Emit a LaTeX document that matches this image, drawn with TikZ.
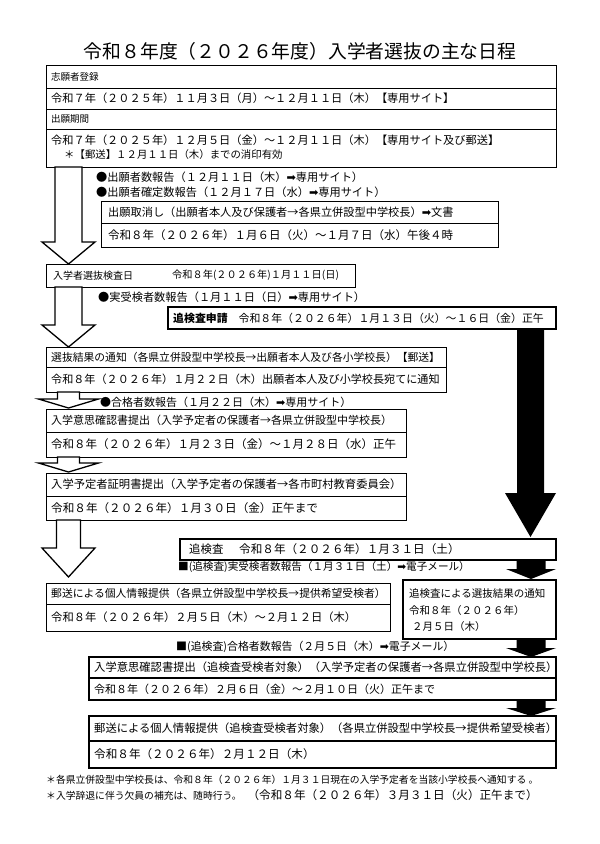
\documentclass[tikz,border=0pt]{standalone}
\usepackage{fontspec}
\setmainfont{Noto Sans CJK JP}
\newfontfamily\symfont{DejaVu Sans}
\usetikzlibrary{calc}
\newcommand\fs[1]{\fontsize{#1}{#1}\selectfont}
\newcommand\myarr{{\symfont ➡}}
% cell: [box opts] name, x, y, w, h, text
\newcommand\cell[7][]{%
  \node[cellbox,#1,minimum width=#5pt,minimum height=#6pt] (#2) at (#3,#4) {};
  \node[celltext] (#2t) at ($(#2.west)+(5,0)$) {#7};}
% block arrow: style, xc, from, to, shaft half, head half, head len, tip gap
\newcommand\blockarr[8]{%
  \path[#1] let \p1=(#3.south), \p2=(#4.north) in
    (#2pt-#5pt,\y1) -- (#2pt-#5pt,\y2+#8pt+#7pt) -- (#2pt-#6pt,\y2+#8pt+#7pt)
    -- (#2pt,\y2+#8pt) -- (#2pt+#6pt,\y2+#8pt+#7pt) -- (#2pt+#5pt,\y2+#8pt+#7pt)
    -- (#2pt+#5pt,\y1) -- cycle;}
\begin{document}
\begin{tikzpicture}[x=1pt,y=-1pt,
  cellbox/.style={draw, line width=0.9pt, anchor=north west, inner sep=0pt, outer sep=0pt},
  thick box/.style={line width=1.5pt},
  celltext/.style={anchor=west, inner sep=0pt},
  freetext/.style={anchor=west, inner sep=0pt},
  warr/.style={draw, line width=1.3pt, fill=white, line join=miter},
  barr/.style={fill=black}]
\fill[white] (0,0) rectangle (600,844);
\useasboundingbox (0,0) rectangle (600,844);

\node[inner sep=0pt] (title) at (300,51) {\fs{18.8}令和８年度（２０２６年度）入学者選抜の主な日程};

% top box
\cell{r1}{46}{65}{510}{23}{\fs{9.5}志願者登録}
\cell{r2}{46}{88}{510}{21}{\fs{11.2}令和７年（２０２５年）１１月３日（月）～１２月１１日（木）【専用サイト】}
\cell{r3}{46}{109}{510}{20}{\fs{9.5}出願期間}
\cell{r4}{46}{129}{510}{38}{}
\node[freetext] (r4a) at (51,140) {\fs{11.2}令和７年（２０２５年）１２月５日（金）～１２月１１日（木）【専用サイト及び郵送】};
\node[freetext] (r4b) at (64,155) {\fs{10.4}＊【郵送】１２月１１日（木）までの消印有効};

\node[freetext] (b1) at (96,177) {\fs{11.2}●出願者数報告（１２月１１日（木）\myarr 専用サイト）};
\node[freetext] (b2) at (96,192) {\fs{11.2}●出願者確定数報告（１２月１７日（水）\myarr 専用サイト）};

\cell{c1}{101}{201}{397}{22}{\fs{11.2}\hspace{2pt}出願取消し（出願者本人及び保護者→各県立併設型中学校長）\myarr 文書}
\cell{c2}{101}{223}{397}{24}{\fs{11.5}\hspace{2pt}令和８年（２０２６年）１月６日（火）～１月７日（水）午後４時}

\cell{e1}{46}{264}{309}{23}{\fs{10}\hspace{2pt}入学者選抜検査日}
\node[freetext] (e1b) at (172,275.5) {\fs{10.2}令和８年(２０２６年)１月１１日(日)};

\node[freetext] (b3) at (98,297) {\fs{11.2}●実受検者数報告（１月１１日（日）\myarr 専用サイト）};

\cell[thick box]{t1}{168}{307}{388}{22}{\fs{10.9}{\bfseries 追検査申請}　令和８年（２０２６年）１月１３日（火）～１６日（金）正午}

\cell{s1}{46}{347}{400}{20}{\fs{10.8}選抜結果の通知（各県立併設型中学校長→出願者本人及び各小学校長）【郵送】}
\cell{s2}{46}{367}{400}{25}{\fs{11.1}令和８年（２０２６年）１月２２日（木）出願者本人及び小学校長宛てに通知}

\node[freetext] (b4) at (100,402) {\fs{11}●合格者数報告（１月２２日（木）\myarr 専用サイト）};

\cell{i1}{46}{409}{360}{23}{\fs{11}入学意思確認書提出（入学予定者の保護者→各県立併設型中学校長）}
\cell{i2}{46}{432}{360}{25}{\fs{11.5}令和８年（２０２６年）１月２３日（金）～１月２８日（水）正午}

\cell{p1}{46}{473}{360}{23}{\fs{11.3}入学予定者証明書提出（入学予定者の保護者→各市町村教育委員会）}
\cell{p2}{46}{496}{360}{24}{\fs{11.6}令和８年（２０２６年）１月３０日（金）正午まで}

\cell[thick box]{tk}{180}{539}{376}{21}{\fs{11.4}\hspace{4pt}追検査}
\node[freetext] (tkb) at (239,549.5) {\fs{11.6}令和８年（２０２６年）１月３１日（土）};

\node[freetext] (b5) at (178,567) {\fs{10.6}■(追検査)実受検者数報告（１月３１日（土）\myarr 電子メール）};

\cell{m1}{46}{583}{344}{21}{\fs{10.8}郵送による個人情報提供（各県立併設型中学校長→提供希望受検者）}
\cell{m2}{46}{604}{344}{27}{\fs{11.3}令和８年（２０２６年）２月５日（木）～２月１２日（木）}

\cell[thick box]{rb}{403}{580}{153}{59}{}
\node[freetext] (rb1) at (409,594) {\fs{10.5}追検査による選抜結果の通知};
\node[freetext] (rb2) at (409,611) {\fs{10.5}令和８年（２０２６年）};
\node[freetext] (rb3) at (412,627) {\fs{10.5}２月５日（木）};

\node[freetext] (b6) at (176,647) {\fs{10.9}■(追検査)合格者数報告（２月５日（木）\myarr 電子メール）};

\cell[thick box]{k1}{89}{657}{467}{21}{\fs{11.3}入学意思確認書提出（追検査受検者対象）（入学予定者の保護者→各県立併設型中学校長）}
\cell[thick box]{k2}{89}{678}{467}{22}{\fs{11}令和８年（２０２６年）２月６日（金）～２月１０日（火）正午まで}

\cell[thick box]{n1}{89}{716}{467}{25}{\fs{11.3}郵送による個人情報提供（追検査受検者対象）（各県立併設型中学校長→提供希望受検者）}
\cell[thick box]{n2}{89}{741}{467}{27}{\fs{11.6}令和８年（２０２６年）２月１２日（木）}

\node[freetext] (f1) at (46,780) {\fs{9.8}＊各県立併設型中学校長は、令和８年（２０２６年）１月３１日現在の入学予定者を当該小学校長へ通知する 。};
\node[freetext] (f2) at (46,795) {\fs{9.8}＊入学辞退に伴う欠員の補充は、随時行う。\hspace{6pt}\fs{11.6}（令和８年（２０２６年）３月３１日（火）正午まで）};

% white arrows
\blockarr{warr}{68.5}{r4}{e1}{13.5}{26.5}{22}{0}
\blockarr{warr}{68.5}{e1}{s1}{13.5}{26.5}{22}{0}
\blockarr{warr}{68.5}{s2}{i1}{11}{30}{9}{1}
\blockarr{warr}{68.5}{i2}{p1}{11}{30}{9}{1}
\blockarr{warr}{68.5}{p2}{m1}{12}{26.5}{29}{6}
% black arrows
\blockarr{barr}{530.5}{t1}{tk}{13.5}{25.5}{44}{2}
\blockarr{barr}{531}{tk}{rb}{14.5}{25}{10}{1}
\blockarr{barr}{531}{rb}{k1}{14.5}{25}{9}{0}
\blockarr{barr}{531}{k2}{n1}{14.5}{25}{8}{0}
\end{tikzpicture}
\end{document}
